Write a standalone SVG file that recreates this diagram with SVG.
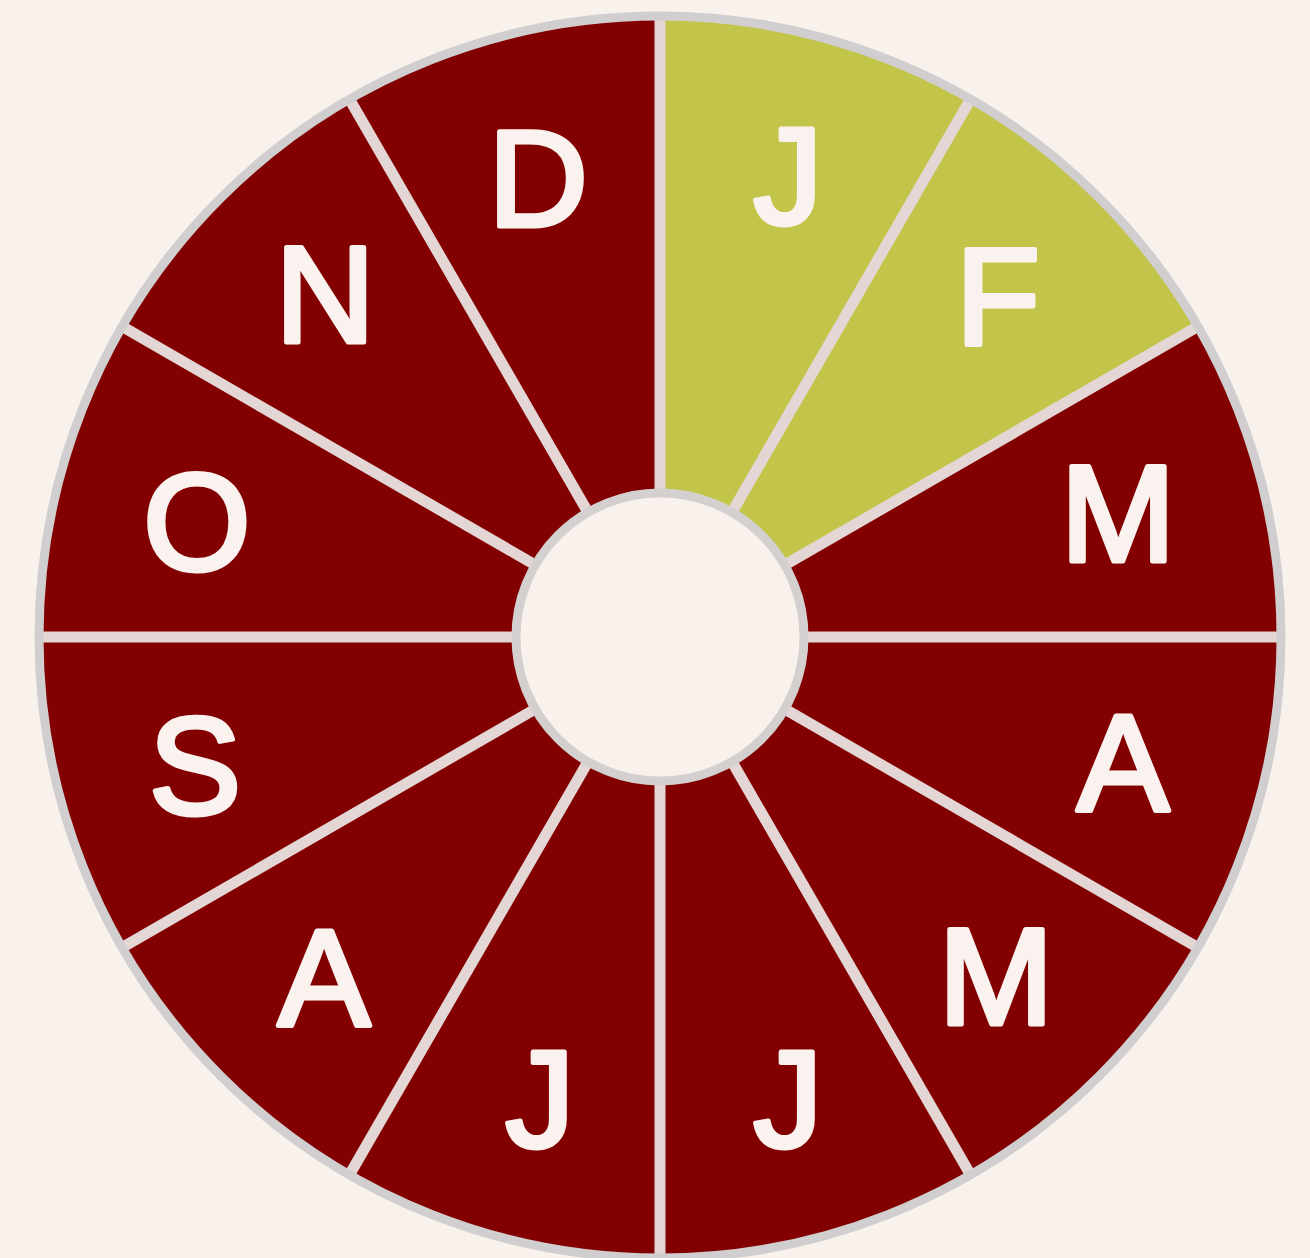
<svg xmlns="http://www.w3.org/2000/svg" width="1310" height="1258" viewBox="0 0 1310 1258">
<style>
.red{fill:#820000}
.green{fill:#c3c44a}
.lbl{font-family:"Liberation Sans",Arial,sans-serif;font-size:138px;fill:#faf2ee;stroke:#faf2ee;stroke-width:5;stroke-linejoin:round;text-anchor:middle}
.div{stroke:#e4d6d4;stroke-width:11;fill:none}
</style>
<rect width="1310" height="1258" fill="#f9f1ec"/>
<g id="segments">
<g id="seg-jan"><path class="green" d="M660,637 L660,16 A621,621 0 0 1 970.5,99.2 Z"/><text class="lbl" x="788" y="224">J</text></g>
<g id="seg-feb"><path class="green" d="M660,637 L970.5,99.2 A621,621 0 0 1 1197.8,326.5 Z"/><text class="lbl" x="998" y="344">F</text></g>
<g id="seg-mar"><path class="red" d="M660,637 L1197.8,326.5 A621,621 0 0 1 1281,637 Z"/><text class="lbl" x="1118" y="561">M</text></g>
<g id="seg-apr"><path class="red" d="M660,637 L1281,637 A621,621 0 0 1 1197.8,947.5 Z"/><text class="lbl" x="1123" y="811">A</text></g>
<g id="seg-may"><path class="red" d="M660,637 L1197.8,947.5 A621,621 0 0 1 970.5,1174.8 Z"/><text class="lbl" x="996" y="1024">M</text></g>
<g id="seg-jun"><path class="red" d="M660,637 L970.5,1174.8 A621,621 0 0 1 660,1258 Z"/><text class="lbl" x="788" y="1147">J</text></g>
<g id="seg-jul"><path class="red" d="M660,637 L660,1258 A621,621 0 0 1 349.5,1174.8 Z"/><text class="lbl" x="540" y="1147">J</text></g>
<g id="seg-aug"><path class="red" d="M660,637 L349.5,1174.8 A621,621 0 0 1 122.2,947.5 Z"/><text class="lbl" x="324" y="1026">A</text></g>
<g id="seg-sep"><path class="red" d="M660,637 L122.2,947.5 A621,621 0 0 1 39,637 Z"/><text class="lbl" x="195" y="814">S</text></g>
<g id="seg-oct"><path class="red" d="M660,637 L39,637 A621,621 0 0 1 122.2,326.5 Z"/><text class="lbl" x="197" y="570">O</text></g>
<g id="seg-nov"><path class="red" d="M660,637 L122.2,326.5 A621,621 0 0 1 349.5,99.2 Z"/><text class="lbl" x="325" y="342">N</text></g>
<g id="seg-dec"><path class="red" d="M660,637 L349.5,99.2 A621,621 0 0 1 660,16 Z"/><text class="lbl" x="538" y="226">D</text></g>
</g>
<g id="connectors">
<line class="div" x1="660" y1="16" x2="660" y2="1258"/>
<line class="div" x1="970.5" y1="99.2" x2="349.5" y2="1174.8"/>
<line class="div" x1="1197.8" y1="326.5" x2="122.2" y2="947.5"/>
<line class="div" x1="1281" y1="637" x2="39" y2="637"/>
<line class="div" x1="1197.8" y1="947.5" x2="122.2" y2="326.5"/>
<line class="div" x1="970.5" y1="1174.8" x2="349.5" y2="99.2"/>
</g>
<g id="rim"><circle cx="660" cy="637" r="621" fill="none" stroke="#d0cece" stroke-width="9"/></g>
<g id="hub"><circle cx="660" cy="637" r="144" fill="#f9f1ec" stroke="#d4d0d0" stroke-width="9"/></g>
</svg>
